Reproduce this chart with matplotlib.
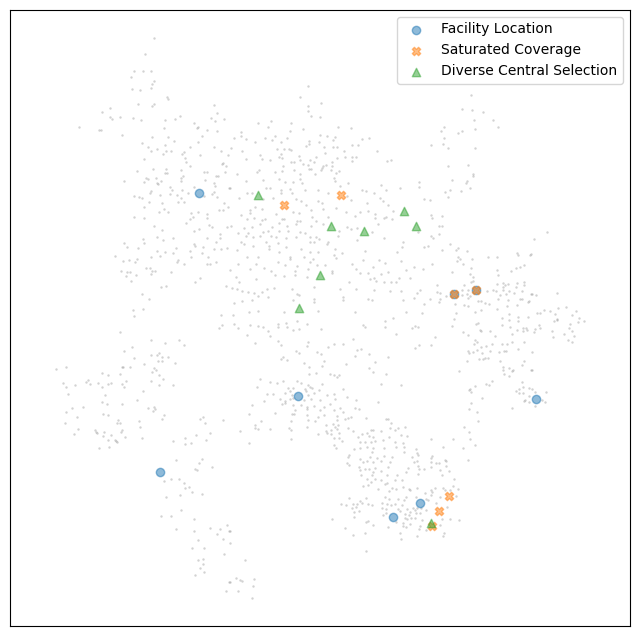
import numpy as np
import matplotlib
matplotlib.use("Agg")
import matplotlib.pyplot as plt

# embedding coordinates (pixel-like units, y down)
background = [
    (154,38),(145,54),(134,71),(143,71),(151,71),(131,77),(154,81),(152,84),(151,88),(132,89),
    (140,90),(167,97),(168,99),(154,104),(152,106),(138,104),(214,105),(110,108),(102,112),(217,113),
    (110,117),(112,119),(120,117),(133,118),(141,120),(165,120),(175,119),(180,116),(211,118),(224,119),
    (215,121),(194,123),(79,127),(99,130),(101,130),(164,128),(198,127),(197,128),(207,130),(217,131),
    (122,135),(152,137),(168,137),(202,136),(174,141),(198,142),(142,143),(165,145),(148,147),(157,149),
    (190,147),(214,147),(151,151),(163,154),(166,151),(171,151),(184,152),(182,154),(200,155),(221,151),
    (228,155),(144,159),(185,158),(186,162),(190,166),(222,164),(223,163),(226,166),(137,171),(153,169),
    (166,169),(165,173),(167,173),(181,170),(204,172),(207,172),(225,172),
    (308,86),(300,97),(321,103),(308,106),(308,111),(311,116),(320,117),(271,121),(258,123),(291,123),
    (268,127),(338,127),(351,128),(303,129),(290,131),(241,132),(320,135),(327,136),(335,137),(234,138),
    (241,136),(246,139),(265,138),(275,136),(287,138),(272,140),(362,139),(369,138),(309,141),(319,142),
    (255,142),(281,142),(333,140),(231,148),(242,151),(277,149),(284,149),(289,149),(291,150),(306,146),
    (309,144),(324,147),(333,147),(337,147),(352,145),(358,145),(344,151),(377,151),(260,155),(281,154),
    (279,157),(282,158),(299,156),(316,157),(325,153),(337,158),(345,157),(352,157),(356,157),(352,161),
    (246,159),(262,159),(270,160),(300,160),(291,162),(294,162),(310,160),(387,161),(391,160),(303,164),
    (308,165),(314,162),(332,162),(283,166),(323,166),(326,165),(322,168),(332,166),(259,170),(282,171),
    (294,170),(309,169),(311,169),(321,170),(331,170),(339,171),(257,172),(275,172),(237,174),(300,174),
    (315,174),(336,173),
    (471,95),(462,109),(472,110),(483,112),(474,120),(493,120),(444,127),(441,131),(498,127),(475,129),
    (462,131),(458,133),(444,138),(431,145),(443,144),(448,148),(475,148),(448,166),(468,165),(473,174),
    (124,181),(146,178),(148,179),(144,182),(156,178),(157,183),(161,181),(158,184),(181,178),(181,181),
    (183,176),(205,180),(214,183),(215,186),(216,176),(218,176),(170,187),(172,190),(151,191),(150,193),
    (160,195),(170,194),(177,195),(182,190),(188,193),(194,187),(204,196),(212,194),(214,192),(217,197),
    (229,188),(134,196),(139,197),(142,198),(181,198),(149,202),(162,203),(178,202),(184,202),(224,203),
    (144,207),(164,209),(159,212),(168,212),(219,210),(223,210),(228,207),(191,213),(198,212),(207,214),
    (207,218),(134,217),(144,218),(190,219),(193,217),(186,223),(209,225),(212,227),(227,227),(154,226),
    (162,230),(194,231),(199,229),(220,234),(207,238),(220,238),(157,237),(173,238),(143,239),(163,240),
    (216,242),(124,243),(144,243),(127,247),(138,248),(194,244),(195,246),(203,247),(176,248),(214,249),
    (221,249),(227,248),(190,251),(157,251),(165,252),(173,253),(202,253),(160,256),(151,257),(115,256),
    (191,257),(208,257),(137,259),(123,261),(129,260),(135,262),(178,260),(177,262),(184,264),(207,264),
    (210,264),(216,262),(146,268),(150,268),(152,271),(155,271),(151,274),(121,271),(127,272),(130,272),
    (136,275),(126,276),(171,272),(131,281),(200,278),(195,282),(161,287),(166,286),(226,286),(142,294),
    (149,299),(133,310),(143,309),(134,316),(221,315),
    (246,181),(263,180),(279,179),(285,182),(293,182),(300,179),(302,183),(334,178),(335,181),(348,183),
    (381,185),(230,188),(247,193),(252,193),(266,188),(270,188),(281,190),(281,193),(290,189),(292,193),
    (305,190),(318,190),(328,193),(340,186),(362,190),(366,191),(374,193),(386,190),(400,188),(239,198),
    (263,199),(273,198),(296,199),(301,201),(306,205),(318,201),(322,203),(347,196),(351,200),(367,203),
    (380,198),(383,201),(388,205),(255,207),(250,210),(250,213),(262,209),(276,214),(293,212),(299,213),
    (311,210),(323,209),(336,208),(346,212),(360,212),(368,211),(375,214),(393,211),(241,215),(247,219),
    (254,218),(262,220),(265,219),(282,219),(284,219),(297,221),(300,221),(312,217),(316,221),(328,217),
    (355,216),(375,218),(384,218),(386,217),(392,219),(231,226),(244,228),(252,227),(260,224),(272,227),
    (279,223),(287,226),(296,224),(311,226),(323,224),(347,227),(351,229),(357,228),(378,224),(238,233),
    (248,233),(263,232),(268,231),(279,231),(288,231),(300,232),(305,233),(339,231),(372,232),(246,236),
    (253,237),(260,236),(271,236),(276,237),(286,238),(296,237),(310,237),(316,237),(319,239),(338,236),
    (357,240),(384,238),(241,242),(244,244),(266,242),(278,243),(310,242),(314,242),(327,244),(328,242),
    (403,242),(237,250),(253,246),(269,246),(269,249),(286,247),(301,249),(310,252),(318,252),(335,249),
    (342,253),(365,251),(402,247),(397,252),(247,257),(258,257),(279,252),(290,257),(290,259),(304,257),
    (313,259),(334,255),(336,258),(363,260),(379,260),(401,261),(238,264),(256,264),(278,262),(285,265),
    (297,266),(310,262),(317,265),(325,265),(352,264),(373,267),(385,263),(230,270),(250,269),(264,268),
    (271,271),(295,271),(308,269),(332,271),(332,273),(356,269),(360,273),(368,273),(381,274),(388,272),
    (406,270),(236,277),(239,282),(256,279),(275,275),(284,276),(295,275),(307,277),(349,282),(370,279),
    (374,278),(376,281),(384,282),(391,282),(396,282),(399,278),(232,288),(237,289),(242,291),(248,292),
    (254,293),(262,292),(267,289),(274,288),(292,289),(297,294),(299,295),(314,287),(340,289),(356,289),
    (374,290),(390,291),(401,291),(234,303),(242,301),(252,300),(258,296),(268,297),(293,300),(314,299),
    (314,302),(343,297),(343,300),(368,299),(372,300),(403,300),(233,315),(249,312),(258,311),(284,312),
    (318,311),(355,312),(406,312),(393,318),
    (419,182),(419,187),(452,180),(467,181),(466,183),(473,176),(445,192),(450,190),(461,191),(470,188),
    (448,197),(424,199),(430,200),(431,215),(432,218),(442,216),(439,226),(442,226),(439,234),(418,232),
    (431,236),(433,238),(424,247),(428,246),(450,244),(458,248),(456,250),(442,250),(467,251),(534,239),
    (547,232),(517,253),(518,255),(530,255),(531,254),(488,257),(497,257),(458,257),(460,259),(457,261),
    (472,259),(414,267),(432,264),(463,264),(423,269),(452,272),(471,268),(497,270),(511,271),(516,268),
    (520,267),(524,265),(470,274),(473,277),(498,275),(410,278),(473,281),(471,282),(437,285),(464,285),
    (497,284),(503,283),(505,285),(508,284),(517,283),(524,282),(524,285),(420,290),(437,292),(440,293),
    (462,290),(468,290),(487,291),(493,290),(496,291),(503,287),(503,290),(509,291),(516,287),(417,293),
    (446,296),(462,295),(467,294),(470,296),(500,295),(506,294),(514,293),(522,291),(531,294),(532,294),
    (557,293),(414,298),(430,299),(440,299),(468,298),(481,301),(498,299),(508,300),(520,299),(522,299),
    (529,301),(536,295),(424,304),(439,302),(455,304),(464,305),(468,306),(478,301),(485,303),(489,304),
    (497,309),(507,306),(517,305),(528,302),(544,310),(550,311),(555,314),(558,308),(422,313),(456,313),
    (475,312),(481,310),(509,314),(518,317),(537,313),(540,313),(572,315),(454,319),(502,318),(528,317),
    (557,319),(566,307),(576,311),(579,318),(570,324),
    (120,332),(222,325),(219,328),(151,340),(179,340),(165,343),(184,345),(132,347),(124,351),(159,353),
    (157,355),(162,357),(151,355),(168,357),(134,358),(158,361),(162,361),(175,363),(144,364),(66,367),
    (56,369),(122,367),(123,367),(130,367),(154,368),(156,370),(102,373),(108,375),(120,374),(152,372),
    (159,375),(163,379),(151,381),(63,383),(88,380),(86,382),(90,384),(98,383),(108,384),(111,383),
    (126,381),(122,384),(66,387),(75,385),(102,387),(124,387),(159,385),(173,385),(68,394),(105,395),
    (143,391),(102,402),(107,404),(122,404),(137,400),(72,408),(83,407),(148,408),(154,407),(155,409),
    (153,411),(66,412),(103,414),(108,415),(164,415),(77,417),(162,419),(118,420),(117,423),(120,423),
    (139,421),(65,423),(140,427),(200,419),(203,417),(205,423),(223,420),(78,429),(95,430),(96,432),
    (97,433),(104,432),(122,430),(121,432),(74,434),(111,435),(103,436),(125,437),(142,438),(210,433),
    (196,435),(108,440),(115,440),(116,441),(117,442),(185,438),(206,440),(173,441),(191,443),(185,444),
    (99,448),(109,447),(202,459),(176,460),(199,463),
    (234,324),(238,328),(250,325),(258,326),(263,327),(278,324),(278,327),(286,323),(287,327),(293,330),
    (299,329),(297,321),(307,324),(321,329),(363,325),(365,327),(385,327),(385,321),(247,335),(268,331),
    (270,336),(278,341),(281,345),(255,343),(308,342),(307,346),(334,344),(343,344),(353,339),(396,334),
    (328,347),(357,350),(361,349),(296,351),(299,353),(317,352),(321,354),(283,357),(281,359),(287,360),
    (355,356),(369,354),(388,357),(304,363),(324,361),(346,364),(375,362),(309,367),(322,366),(369,368),
    (373,372),(386,374),(309,374),(316,373),(330,374),(334,375),(337,377),(339,375),(260,379),(270,382),
    (277,383),(283,381),(297,381),(301,383),(322,384),(257,387),(308,385),(310,387),(312,388),(381,384),
    (401,385),(288,388),(293,388),(305,389),(306,391),(319,390),(343,389),(267,394),(273,394),(285,393),
    (290,391),(292,395),(308,395),(314,393),(327,395),(334,394),(347,397),(264,401),(280,399),(285,401),
    (290,399),(293,398),(304,400),(311,399),(320,400),(335,399),(356,400),(378,402),(252,405),(282,404),
    (285,403),(293,405),(301,405),(307,407),(307,409),(314,406),(324,407),(330,404),(340,408),(355,408),
    (359,409),(295,410),(320,410),(334,410),(343,412),(249,414),(275,413),(292,414),(294,414),(307,415),
    (318,417),(324,415),(337,416),(348,418),(351,417),(366,418),(386,419),(388,419),(261,421),(291,421),
    (308,420),(315,421),(337,420),(345,419),(255,425),(255,428),(307,427),(326,425),(333,424),(335,427),
    (338,425),(348,428),(391,423),(240,431),(258,429),(270,429),(289,428),(291,430),(326,431),(331,430),
    (337,429),(353,431),(371,430),(373,430),(381,431),(390,428),(395,430),(398,428),(405,427),(318,434),
    (327,433),(331,434),(339,433),(362,434),(367,433),(369,436),(358,437),(373,437),(389,437),(401,435),
    (407,436),(291,439),(334,438),(339,438),(360,442),(365,442),(371,442),(375,441),(383,440),(395,442),
    (403,443),(249,443),(334,445),(336,448),(342,441),(354,449),(360,448),(367,447),(373,448),(384,448),
    (396,447),(404,447),(372,452),(404,452),(349,455),(348,457),(360,459),(370,457),(377,458),(384,456),
    (392,457),(390,462),(347,463),(363,462),(367,461),(373,462),(381,461),
    (412,328),(415,326),(418,327),(452,326),(476,324),(478,323),(502,325),(509,320),(510,327),(518,321),
    (523,328),(526,328),(523,331),(527,330),(534,332),(535,329),(539,325),(540,328),(554,321),(557,320),
    (569,328),(572,331),(578,322),(584,321),(435,337),(463,332),(468,335),(480,330),(481,331),(490,331),
    (495,336),(512,334),(517,330),(552,331),(553,337),(564,334),(574,336),(568,340),(572,342),(431,345),
    (419,345),(415,348),(475,340),(477,342),(474,344),(481,347),(486,346),(492,344),(502,344),(507,344),
    (512,342),(524,342),(468,351),(469,353),(473,352),(477,350),(482,353),(490,351),(499,352),(504,351),
    (506,351),(518,349),(532,352),(479,359),(483,359),(485,358),(488,358),(467,361),(500,361),(524,361),
    (522,365),(503,367),(503,370),(509,368),(512,371),(513,370),(531,370),(532,370),(459,371),(504,374),
    (509,376),(486,384),(489,385),(492,381),(522,382),(475,386),(469,390),(471,392),(470,389),(519,389),
    (516,391),(523,387),(529,388),(532,389),(519,393),(523,393),(535,392),(546,392),(529,396),(525,400),
    (524,401),(529,402),(542,400),(545,402),(535,406),(512,408),(482,398),(471,403),(469,409),(477,412),
    (478,421),(464,427),(469,432),(431,439),(453,439),(470,439),(475,445),(443,447),(463,448),(416,449),
    (417,453),(418,455),(412,457),(432,456),(431,458),(445,460),(446,461),(417,461),(414,462),(431,462),
    (436,463),(439,463),(468,460),
    (195,469),(197,470),(212,467),(164,481),(171,479),(179,479),(184,483),(185,488),(189,487),(192,492),
    (202,494),(180,495),(166,497),(181,510),(161,516),(171,516),(194,519),(176,529),(194,531),(210,528),
    (220,529),(227,525),(229,531),(217,534),(223,539),(198,540),(192,548),(204,548),(224,554),(198,560),
    (203,559),(203,564),(200,568),(204,572),(195,575),(229,582),(226,591),
    (349,465),(359,467),(360,470),(365,469),(369,469),(375,468),(388,467),(373,472),(381,471),(361,475),
    (372,475),(387,475),(397,475),(408,468),(367,479),(375,479),(381,480),(395,480),(402,480),(406,472),
    (363,486),(368,485),(371,482),(378,489),(385,484),(387,483),(389,491),(392,488),(396,489),(403,487),
    (409,489),(349,498),(366,498),(385,497),(389,499),(398,499),(404,500),(406,497),(341,504),(346,505),
    (353,504),(357,504),(360,501),(362,503),(368,504),(372,505),(382,503),(387,504),(391,505),(395,504),
    (402,505),(352,508),(356,507),(382,508),(386,509),(398,509),(407,509),(354,512),(359,511),(386,513),
    (400,511),(405,514),(409,515),(354,517),(383,515),(405,518),(407,519),(332,519),(366,522),(368,521),
    (396,522),(403,523),(373,525),(388,527),(403,526),(406,527),(345,528),(365,533),(400,533),(353,535),
    (401,539),(366,551),(230,531),(230,543),(245,560),(236,578),(240,580),(242,581),(254,579),(230,582),
    (253,586),(238,591),(252,598),
    (418,466),(419,469),(424,469),(431,467),(440,470),(446,466),(449,471),(442,475),(418,474),(454,479),
    (410,490),(417,488),(425,493),(431,490),(432,492),(435,488),(440,497),(443,488),(445,490),(450,490),
    (453,486),(456,496),(458,489),(416,497),(426,499),(428,500),(431,495),(436,503),(447,507),(413,508),
    (415,510),(417,508),(421,508),(426,510),(410,512),(416,513),(420,513),(411,518),(415,518),(422,520),
    (442,519),(450,519),(459,520),(410,524),(420,526),(419,529),(440,525),(444,533),(443,536),(426,530),
    (417,536),
]

facility_x = [199, 298, 160, 393, 420, 536, 454, 476]
facility_y = [193, 396, 472, 517, 503, 399, 294, 290]

saturated_x = [284, 341, 454, 476, 449, 439, 432]
saturated_y = [205, 195, 294, 290, 496, 511, 526]

diverse_x = [258, 404, 331, 364, 416, 320, 299, 431]
diverse_y = [195, 211, 226, 231, 226, 275, 308, 523]

bg = np.array(background)

fig = plt.figure(figsize=(6.4, 6.36), dpi=100)
ax = fig.add_axes([10/640, 10/636, 620/640, 616/636])

ax.scatter(bg[:, 0], bg[:, 1], s=3, c='gray', alpha=0.35, linewidths=0)
ax.scatter(facility_x, facility_y, marker='o', color='tab:blue', alpha=0.5, label='Facility Location')
ax.scatter(saturated_x, saturated_y, marker='X', color='tab:orange', alpha=0.5, label='Saturated Coverage')
ax.scatter(diverse_x, diverse_y, marker='^', color='tab:green', alpha=0.5, label='Diverse Central Selection')

ax.set_xlim(10, 630)
ax.set_ylim(626, 10)
ax.set_xticks([])
ax.set_yticks([])
ax.legend(loc='upper right')

plt.savefig('out.png')
